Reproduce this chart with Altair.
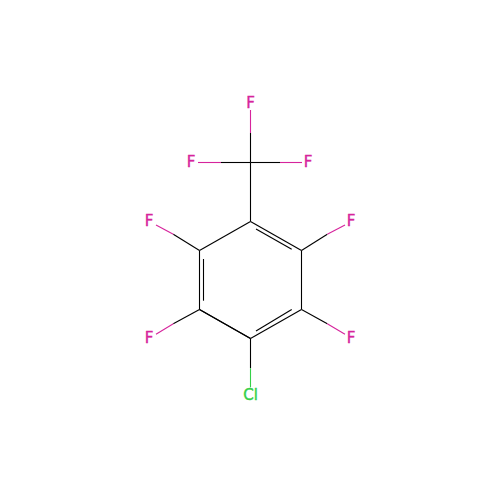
import altair as alt
import pandas as pd

BLACK = "#000000"
PINK = "#d6249c"
GREEN = "#35d048"

# skeleton bonds, carbon halves of C-X bonds, then hetero-atom halves
bond_x1 = [250.5, 250.5, 250.5, 301.5, 250.5, 250.5, 199.5, 199.5, 256, 291.7, 203.5,
           250.5, 250.5, 250.5, 199.5, 199.5, 301.5, 301.5, 250.5,
           250.5, 221, 280, 173.3, 173.3, 327.3, 327.3, 250.5]
bond_y1 = [162.5, 221.5, 221.5, 250.5, 338.5, 338.5, 250.5, 309.5, 229, 309.5, 259,
           162.5, 162.5, 162.5, 250.5, 309.5, 250.5, 309.5, 338.5,
           133, 162.5, 162.5, 234.3, 323.7, 234.3, 323.7, 368.3]
bond_x2 = [250.5, 199.5, 301.5, 301.5, 199.5, 301.5, 199.5, 250.5, 291.7, 256, 203.5,
           250.5, 221, 280, 173.3, 173.3, 327.3, 327.3, 250.5,
           250.5, 198, 302, 156, 156, 345, 345, 250.5]
bond_y2 = [221.5, 250.5, 250.5, 309.5, 309.5, 309.5, 309.5, 338.5, 249.3, 331, 300.7,
           133, 162.5, 162.5, 234.3, 323.7, 234.3, 323.7, 368.3,
           110, 162.5, 162.5, 225, 334.3, 225, 334.3, 387.3]
bond_colour = [BLACK] * 19 + [PINK] * 7 + [GREEN]

atom_text = ["F", "F", "F", "F", "F", "F", "F", "Cl"]
atom_x = [250.5, 191, 308, 149, 149, 351, 351, 250.5]
atom_y = [103, 162, 162, 221, 337.5, 221, 337.5, 395]
atom_colour = [PINK] * 7 + [GREEN]

bonds = pd.DataFrame({"x": bond_x1, "y": bond_y1, "x2": bond_x2, "y2": bond_y2, "c": bond_colour})
atoms = pd.DataFrame({"x": atom_x, "y": atom_y, "t": atom_text, "c": atom_colour})

xs = alt.Scale(domain=[8, 492], range=[0, 484], nice=False, zero=False)
ys = alt.Scale(domain=[8, 492], range=[0, 484], nice=False, zero=False)

rules = alt.Chart(bonds).mark_rule(strokeWidth=1.1).encode(
    x=alt.X("x:Q", scale=xs, axis=None),
    y=alt.Y("y:Q", scale=ys, axis=None),
    x2="x2:Q",
    y2="y2:Q",
    color=alt.Color("c:N", scale=None, legend=None),
)
labels = alt.Chart(atoms).mark_text(
    font="DejaVu Sans", fontSize=15, align="center", baseline="middle", strokeWidth=0.4
).encode(
    x=alt.X("x:Q", scale=xs, axis=None),
    y=alt.Y("y:Q", scale=ys, axis=None),
    text="t:N",
    color=alt.Color("c:N", scale=None, legend=None),
    stroke=alt.Color("c:N", scale=None, legend=None),
)
chart = (rules + labels).properties(
    width=484, height=484, padding=0, autosize=alt.AutoSizeParams(type="none")
).configure_view(stroke=None)
chart.save("out.html", embed_options={"renderer": "svg", "actions": False})
